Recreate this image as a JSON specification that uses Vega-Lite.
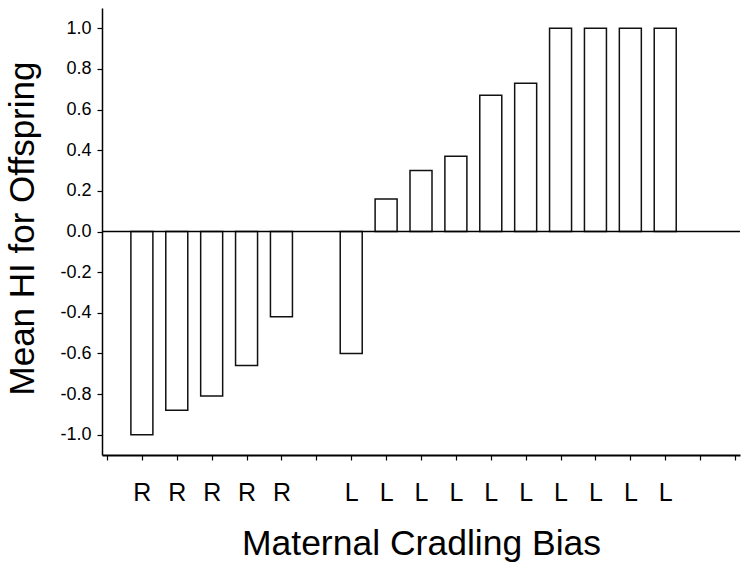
{
  "$schema": "https://vega.github.io/schema/vega-lite/v6.json",
  "width": 638,
  "height": 447,
  "autosize": "none",
  "padding": {"left": 102, "top": 8, "right": 10, "bottom": 115},
  "background": "white",
  "config": {
    "view": {"stroke": null},
    "font": "Liberation Sans",
    "axis": {"grid": false, "domainColor": "#000", "tickColor": "#000", "labelColor": "#000", "titleColor": "#000", "titleFontWeight": "normal"}
  },
  "data": {
    "values": [
      {"pos": 1, "side": "R", "hi": -1.0},
      {"pos": 2, "side": "R", "hi": -0.88},
      {"pos": 3, "side": "R", "hi": -0.81},
      {"pos": 4, "side": "R", "hi": -0.66},
      {"pos": 5, "side": "R", "hi": -0.42},
      {"pos": 7, "side": "L", "hi": -0.6},
      {"pos": 8, "side": "L", "hi": 0.16},
      {"pos": 9, "side": "L", "hi": 0.3},
      {"pos": 10, "side": "L", "hi": 0.37},
      {"pos": 11, "side": "L", "hi": 0.67},
      {"pos": 12, "side": "L", "hi": 0.73},
      {"pos": 13, "side": "L", "hi": 1.0},
      {"pos": 14, "side": "L", "hi": 1.0},
      {"pos": 15, "side": "L", "hi": 1.0},
      {"pos": 16, "side": "L", "hi": 1.0}
    ]
  },
  "layer": [
    {
      "mark": {"type": "bar", "width": 22, "fill": "white", "stroke": "#111", "strokeWidth": 1.5},
      "encoding": {
        "x": {
          "field": "pos", "type": "quantitative",
          "scale": {"domain": [0, 18], "nice": false, "zero": false},
          "axis": {
            "values": [0,1,2,3,4,5,6,7,8,9,10,11,12,13,14,15,16,17,18],
            "labelExpr": "datum.value >= 1 && datum.value <= 5 ? 'R' : (datum.value >= 7 && datum.value <= 16 ? 'L' : '')",
            "labelFontSize": 25,
            "labelPadding": 20,
            "tickSize": 5,
            "tickWidth": 1.2,
            "domainWidth": 2,
            "title": "Maternal Cradling Bias",
            "titleFontSize": 35.5,
            "titleBaseline": "alphabetic",
            "titleY": 99,
            "labelFlush": false,
            "labelOverlap": false
          }
        },
        "y": {
          "field": "hi", "type": "quantitative",
          "scale": {"domain": [-1.1, 1.1], "nice": false},
          "axis": {
            "values": [-1.0, -0.8, -0.6, -0.4, -0.2, 0.0, 0.2, 0.4, 0.6, 0.8, 1.0],
            "labelExpr": "replace(format(datum.value, '.1f'), '\u2212', '-')",
            "labelFontSize": 18,
            "labelPadding": 6,
            "tickSize": 5,
            "tickWidth": 1.2,
            "domainWidth": 1.5,
            "title": "Mean HI for Offspring",
            "titleFontSize": 35,
            "titleBaseline": "alphabetic",
            "titleX": -69,
            "titleY": 220,
            "labelFlush": false,
            "labelOverlap": false
          }
        }
      }
    },
    {
      "data": {"values": [{"zero": 0}]},
      "mark": {"type": "rule", "color": "#000", "strokeWidth": 1.5},
      "encoding": {"y": {"field": "zero", "type": "quantitative"}}
    }
  ]
}
